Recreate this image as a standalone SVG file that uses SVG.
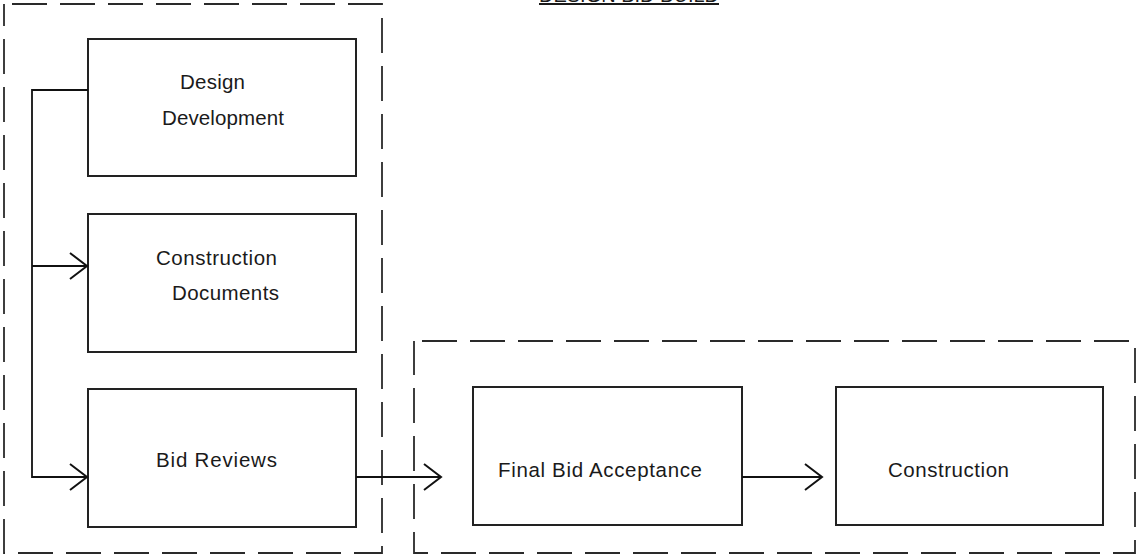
<svg xmlns="http://www.w3.org/2000/svg" width="1137" height="556" viewBox="0 0 1137 556">
  <style>
    .box { fill: #ffffff; stroke: #222222; stroke-width: 2; }
    .group { fill: none; stroke: #2a2a2a; stroke-width: 1.8; stroke-dasharray: 35 13; }
    .lbl { font-family: "Liberation Sans", Arial, sans-serif; font-size: 20.5px; fill: #1a1a1a; }
    .title { font-family: "Liberation Sans", Arial, sans-serif; font-size: 20px; fill: #1a1a1a; text-decoration: underline; }
    .conn { fill: none; stroke: #111111; stroke-width: 1.8; }
  </style>
  <defs>
    <marker id="open" markerUnits="userSpaceOnUse" markerWidth="24" markerHeight="32" viewBox="-20 -16 24 32" refX="0" refY="0" orient="auto">
      <path d="M-17,-13 L0,0 L-17,13" fill="none" stroke="#111111" stroke-width="2"/>
    </marker>
  </defs>
  <rect width="1137" height="556" fill="#ffffff"/>

  <text class="title" x="539" y="2" textLength="180" lengthAdjust="spacingAndGlyphs">DESIGN BID BUILD</text>

  <g id="design-phase">
    <rect class="group" x="4" y="4" width="378" height="549" stroke-dashoffset="40"/>
  </g>
  <g id="build-phase">
    <rect class="group" x="414" y="341" width="721" height="212" stroke-dashoffset="40"/>
  </g>

  <g id="design-development">
    <rect class="box" x="88" y="39" width="268" height="137"/>
    <text class="lbl" x="180" y="89" textLength="65">Design</text>
    <text class="lbl" x="162" y="125" textLength="122">Development</text>
  </g>
  <g id="construction-documents">
    <rect class="box" x="88" y="214" width="268" height="138"/>
    <text class="lbl" x="156" y="265" textLength="121">Construction</text>
    <text class="lbl" x="172" y="300" textLength="107">Documents</text>
  </g>
  <g id="bid-reviews">
    <rect class="box" x="88" y="389" width="268" height="138"/>
    <text class="lbl" x="156" y="467" textLength="121">Bid Reviews</text>
  </g>
  <g id="final-bid-acceptance">
    <rect class="box" x="473" y="387" width="269" height="138"/>
    <text class="lbl" x="498" y="477" textLength="204">Final Bid Acceptance</text>
  </g>
  <g id="construction">
    <rect class="box" x="836" y="387" width="267" height="138"/>
    <text class="lbl" x="888" y="477" textLength="121">Construction</text>
  </g>

  <g id="connectors">
    <path class="conn" d="M88,90 L32,90 L32,478"/>
    <path class="conn" d="M32,266 L87,266" marker-end="url(#open)"/>
    <path class="conn" d="M32,477 L87,477" marker-end="url(#open)"/>
    <path class="conn" d="M356,477 L441,477" marker-end="url(#open)"/>
    <path class="conn" d="M742,477 L822,477" marker-end="url(#open)"/>
  </g>
</svg>
